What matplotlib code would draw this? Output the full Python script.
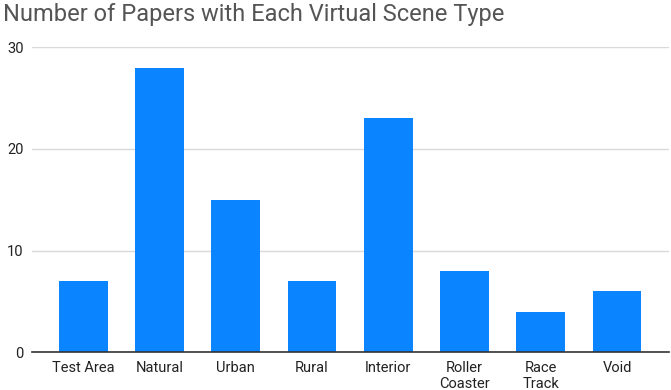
import matplotlib
matplotlib.use("Agg")
import matplotlib.pyplot as plt
import numpy as np

# ── Data ──────────────────────────────────────────────────────────────────────
scene_types = ["Test Area", "Natural", "Urban", "Rural", "Interior",
               "Roller\nCoaster", "Race\nTrack", "Void"]
paper_counts = [7, 28, 15, 7, 23, 8, 4, 6]
y_ticks = [0, 10, 20, 30]

plt.rcParams["font.family"] = ["Roboto", "DejaVu Sans"]

fig = plt.figure(figsize=(6.71, 3.90), dpi=100)
ax = fig.add_axes([0.0477, 0.097, 0.949, 0.782])

x = np.arange(len(scene_types))
ax.bar(x, paper_counts, width=0.64, color="#0a84ff", zorder=3)

# gridlines run past the outer bars
ax.set_xlim(-0.672, len(scene_types) - 1 + 0.678)
ax.set_ylim(0, 30)
ax.set_yticks(y_ticks)
ax.set_yticklabels([str(t) for t in y_ticks], fontsize=10.5, color="#222222")
ax.set_xticks(x)
ax.set_xticklabels(scene_types, fontsize=10.5, color="#222222", linespacing=1.25)

ax.grid(axis="y", color="#d9d9d9", linewidth=1, zorder=0)
ax.tick_params(axis="both", length=0, pad=6)
for side in ["top", "right", "left"]:
    ax.spines[side].set_visible(False)
ax.spines["bottom"].set_color("#333333")
ax.spines["bottom"].set_linewidth(1.2)
ax.spines["bottom"].set_zorder(4)

fig.text(0.004, 0.962, "Number of Papers with Each Virtual Scene Type",
         fontsize=17, color="#555555", ha="left", va="center")

fig.savefig("out.png", dpi=100)
